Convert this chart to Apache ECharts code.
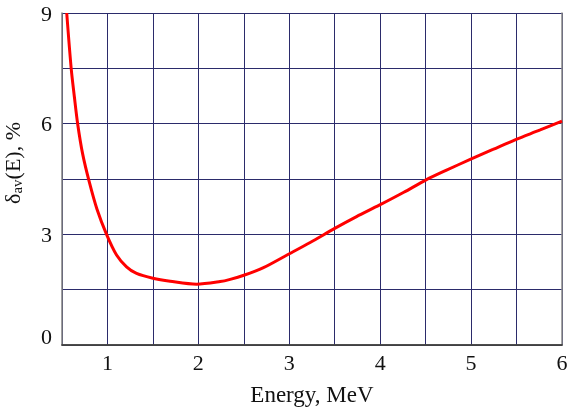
<!DOCTYPE html>
<html>
<head>
<meta charset="utf-8">
<script src="https://cdn.jsdelivr.net/npm/echarts@6/dist/echarts.min.js"></script>
<style>html,body{margin:0;padding:0;background:#fff}#c{width:567px;height:411px}</style>
</head>
<body>
<div id="c"></div>
<script>
const energy = [0.552, 0.601, 0.636, 0.672, 0.727, 0.80, 0.885, 0.99, 1.10, 1.21, 1.32, 1.50, 1.69, 1.98, 2.24, 2.35, 2.50, 2.71, 2.99, 3.23, 3.5, 3.74, 3.99, 4.26, 4.5, 4.73, 4.99, 5.24, 5.49, 5.76, 6.0];
const delta = [9.0, 7.5, 6.73, 6.0, 5.18, 4.42, 3.68, 3.0, 2.44, 2.12, 1.94, 1.81, 1.73, 1.65, 1.72, 1.78, 1.89, 2.09, 2.46, 2.78, 3.16, 3.48, 3.79, 4.14, 4.47, 4.74, 5.03, 5.30, 5.57, 5.83, 6.07];
const xTickLabels = [1, 2, 3, 4, 5, 6];
const yTickLabels = [0, 3, 6, 9];

const font = 'Liberation Serif';
const chart = echarts.init(document.getElementById('c'), null, {renderer: 'canvas'});
chart.setOption({
  animation: false,
  grid: {left: 62, right: 5, top: 13, bottom: 66, containLabel: false, outerBoundsMode: 'none'},
  xAxis: [{
    type: 'value', min: 0.5, max: 6, interval: 0.5,
    name: 'Energy, MeV', nameLocation: 'middle', nameGap: 39,
    nameTextStyle: {fontFamily: font, fontSize: 23, color: '#111'},
    axisLine: {show: true, lineStyle: {color: '#808080', width: 1.5}},
    axisTick: {show: false},
    axisLabel: {
      margin: 8, fontFamily: font, fontSize: 22, color: '#111',
      formatter: v => xTickLabels.includes(v) ? String(v) : ''
    },
    splitLine: {show: true, lineStyle: {color: '#2b2b6b', width: 1}}
  }, {
    type: 'value', min: 0.5, max: 6, position: 'top',
    axisLine: {show: true, lineStyle: {color: '#333', width: 1.5}},
    axisTick: {show: false}, axisLabel: {show: false}, splitLine: {show: false}
  }],
  yAxis: [{
    type: 'value', min: 0, max: 9, interval: 1.5,
    name: '{d|δ}{s|av}{d|(E), %}', nameLocation: 'middle', nameGap: 36, nameRotate: 90,
    nameTextStyle: {
      fontFamily: font, fontSize: 22, color: '#111', padding: [0, 0, 0, 32],
      rich: {
        d: {fontFamily: font, fontSize: 22, color: '#111'},
        s: {fontFamily: font, fontSize: 15, color: '#111', verticalAlign: 'bottom', padding: [8, 0, 0, 0]}
      }
    },
    axisLine: {show: true, lineStyle: {color: '#808080', width: 1.5}},
    axisTick: {show: false},
    axisLabel: {
      margin: 10, fontFamily: font, fontSize: 22, color: '#111',
      formatter: v => v === 0 ? '{z|0}' : (yTickLabels.includes(v) ? '{n|' + v + '}' : ''),
      rich: {
        z: {fontFamily: font, fontSize: 22, color: '#111', padding: [0, 0, 14, 0]},
        n: {fontFamily: font, fontSize: 22, color: '#111', padding: [4, 0, 0, 0]}
      }
    },
    splitLine: {show: true, lineStyle: {color: '#2b2b6b', width: 1}}
  }, {
    type: 'value', min: 0, max: 9, position: 'right',
    axisLine: {show: true, lineStyle: {color: '#888', width: 1.5}},
    axisTick: {show: false}, axisLabel: {show: false}, splitLine: {show: false}
  }],
  series: [{
    type: 'line', smooth: 0.3, showSymbol: false, clip: true,
    data: energy.map((e, i) => [e, delta[i]]),
    lineStyle: {color: '#ff0000', width: 3}
  }]
});
</script>
</body>
</html>
